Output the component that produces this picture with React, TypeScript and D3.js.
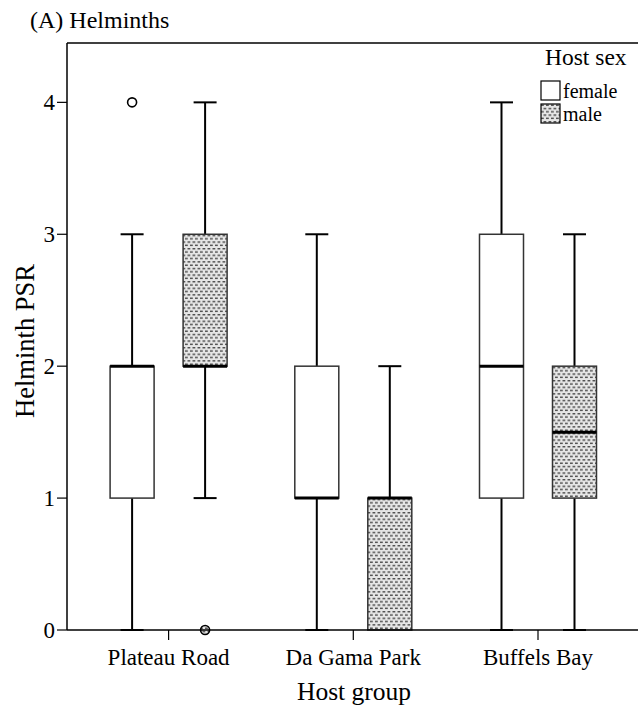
import React from 'react';
import * as d3 from 'd3';

// host groups and sexes
const groups = ['Plateau Road', 'Da Gama Park', 'Buffels Bay'];
const sexes = ['female', 'male'];

// five-number summaries: [min, q1, median, q3, max]
const femaleStats = [
    [0, 1, 2, 2, 3],
    [0, 1, 1, 2, 3],
    [0, 1, 2, 3, 4],
];
const maleStats = [
    [1, 2, 2, 3, 4],
    [0, 0, 1, 1, 2],
    [0, 1, 1.5, 2, 3],
];
// outliers per group
const femaleOutliers = [[4], [], []];
const maleOutliers = [[0], [], []];

const yTicks = [0, 1, 2, 3, 4];

const width = 638;
const height = 711;
const marginLeft = 67;
const marginTop = 43;
const marginBottom = 81;
const fontFamily = "'Times New Roman', 'Liberation Serif', Tinos, 'DejaVu Serif', serif";

function App() {
    const y = d3.scaleLinear()
        .domain([0, 4.45])
        .range([height - marginBottom, marginTop]);

    const x = d3.scalePoint()
        .domain(groups)
        .range([168.6, 538]);

    const offset = d3.scalePoint()
        .domain(sexes)
        .range([-36.5, 36.5]);

    const boxWidth = 44;
    const capWidth = 23;
    const baseY = y(0);

    const boxes = groups.flatMap((g, i) => [
        { group: g, sex: 'female', stats: femaleStats[i], outliers: femaleOutliers[i] },
        { group: g, sex: 'male', stats: maleStats[i], outliers: maleOutliers[i] },
    ]);

    return (
        <svg width={width} height={height} style={{ display: 'block', position: 'absolute', left: 0, top: 0, fontFamily }}>
            <defs>
                <pattern id="dots" patternUnits="userSpaceOnUse" width="5" height="6.6">
                    <rect width="5" height="6.6" fill="#e6e6e6" />
                    <rect x="0" y="0.5" width="2.8" height="1.4" fill="#4a4a4a" />
                    <rect x="2.5" y="3.8" width="2.8" height="1.4" fill="#4a4a4a" />
                    <rect x="-2.5" y="3.8" width="2.8" height="1.4" fill="#4a4a4a" />
                </pattern>
            </defs>
            <rect width={width} height={height} fill="#fff" />

            <text x={30} y={28} fontSize={24}>(A) Helminths</text>

            {/* frame */}
            <line x1={marginLeft} x2={width} y1={marginTop} y2={marginTop} stroke="#000" strokeWidth={1.5} />
            <line x1={marginLeft} x2={marginLeft} y1={marginTop} y2={baseY} stroke="#000" strokeWidth={1.5} />

            {/* y axis */}
            {yTicks.map(t => (
                <g key={t}>
                    <line x1={57} x2={marginLeft} y1={y(t)} y2={y(t)} stroke="#000" strokeWidth={1.2} />
                    <text x={55} y={y(t)} dy="0.34em" textAnchor="end" fontSize={23}>{t}</text>
                </g>
            ))}
            <text transform={`translate(34,341) rotate(-90)`} textAnchor="middle" fontSize={26.5}>Helminth PSR</text>

            {/* boxes */}
            {boxes.map(b => {
                const cx = x(b.group)! + offset(b.sex)!;
                const [mn, q1, med, q3, mx] = b.stats;
                const fill = b.sex === 'male' ? 'url(#dots)' : '#fff';
                return (
                    <g key={b.group + b.sex}>
                        {mn < q1 && <line x1={cx} x2={cx} y1={y(mn)} y2={y(q1)} stroke="#000" strokeWidth={2} />}
                        {mx > q3 && <line x1={cx} x2={cx} y1={y(q3)} y2={y(mx)} stroke="#000" strokeWidth={2} />}
                        {mn < q1 && <line x1={cx - capWidth / 2} x2={cx + capWidth / 2} y1={y(mn)} y2={y(mn)} stroke="#000" strokeWidth={2} />}
                        {mx > q3 && <line x1={cx - capWidth / 2} x2={cx + capWidth / 2} y1={y(mx)} y2={y(mx)} stroke="#000" strokeWidth={2} />}
                        <rect x={cx - boxWidth / 2} y={y(q3)} width={boxWidth} height={y(q1) - y(q3)}
                            fill={fill} stroke="#333" strokeWidth={1.5} />
                        <line x1={cx - boxWidth / 2} x2={cx + boxWidth / 2} y1={y(med)} y2={y(med)} stroke="#000" strokeWidth={3} />
                        {b.outliers.map((o, k) => (
                            <circle key={k} cx={cx} cy={y(o)} r={4.5} fill={b.sex === 'male' ? 'url(#dots)' : '#fff'}
                                stroke="#000" strokeWidth={1.6} />
                        ))}
                    </g>
                );
            })}

            {/* x axis */}
            <line x1={marginLeft} x2={width} y1={baseY} y2={baseY} stroke="#000" strokeWidth={1.5} />
            {groups.map(g => (
                <g key={g}>
                    <line x1={x(g)} x2={x(g)} y1={baseY} y2={baseY + 10} stroke="#000" strokeWidth={1.2} />
                    <text x={x(g)} y={665} textAnchor="middle" fontSize={23}>{g}</text>
                </g>
            ))}
            <text x={354} y={700} textAnchor="middle" fontSize={25.5}>Host group</text>

            {/* legend */}
            <text x={545} y={65} fontSize={23.5}>Host sex</text>
            {sexes.map((s, i) => (
                <g key={s} transform={`translate(541,${81 + i * 23})`}>
                    <rect width={19} height={19} fill={s === 'male' ? 'url(#dots)' : '#fff'} stroke="#000" strokeWidth={1.2} />
                    <text x={22} y={17} fontSize={20}>{s}</text>
                </g>
            ))}
        </svg>
    );
}

export default App;
